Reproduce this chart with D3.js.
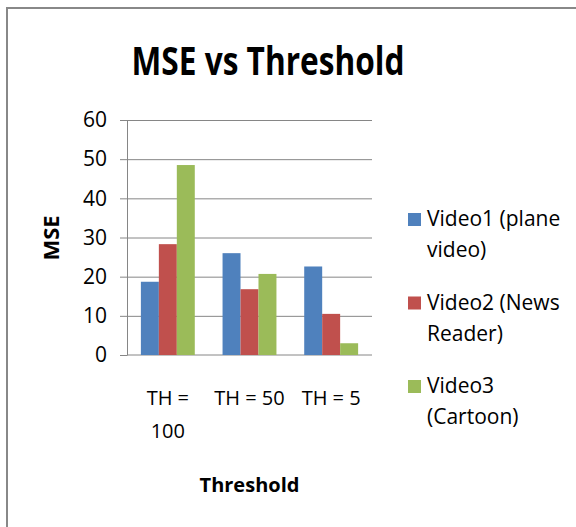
<!DOCTYPE html>
<html lang="en">
<head>
<meta charset="utf-8"/>
<title>MSE vs Threshold</title>
<script src="https://d3js.org/d3.v7.min.js"></script>
<style>
	body { margin: 0; background: #fff; }
	svg text { font-family: "Open Sans", sans-serif; fill: #000; }
	.axis .domain, .axis line, .grid line { stroke: #868686; }
	.grid .domain { display: none; }
</style>
</head>
<body>
<svg id="chart" width="576" height="527"></svg>
<script>
// data
var categories = ["TH = 100", "TH = 50", "TH = 5"];
var seriesNames = ["Video1 (plane video)", "Video2 (News Reader)", "Video3 (Cartoon)"];
var video1 = [18.7, 26.0, 22.6];
var video2 = [28.3, 16.8, 10.5];
var video3 = [48.5, 20.7, 3.0];
var yTicks = [0, 10, 20, 30, 40, 50, 60];
var colors = ["#4f81bd", "#c0504d", "#9bbb59"];

var series = [video1, video2, video3];

var svg = d3.select("#chart"),
	margin = {top: 120, right: 204, bottom: 172, left: 127},
	width = +svg.attr("width") - margin.left - margin.right,
	height = +svg.attr("height") - margin.top - margin.bottom;

// chart border
svg.append("rect")
	.attr("x", 7).attr("y", 8)
	.attr("width", 620).attr("height", 600)
	.attr("fill", "none")
	.attr("stroke", "#888")
	.attr("stroke-width", 2);

svg.append("text")
	.attr("x", 268)
	.attr("y", 75)
	.attr("text-anchor", "middle")
	.attr("font-size", 39)
	.attr("font-weight", "bold")
	.attr("textLength", 273)
	.attr("lengthAdjust", "spacingAndGlyphs")
	.text("MSE vs Threshold");

var g = svg.append("g").attr("transform", "translate(" + margin.left + "," + margin.top + ")");

var x0 = d3.scaleBand()
	.domain(categories)
	.range([0, width])
	.paddingInner(0.34)
	.paddingOuter(0.17);

var x1 = d3.scaleBand()
	.domain(d3.range(series.length))
	.range([0, x0.bandwidth()]);

var y = d3.scaleLinear()
	.domain([0, 60])
	.range([height, 0]);

// gridlines
g.append("g")
	.attr("class", "grid")
	.call(d3.axisRight(y).tickValues(yTicks.slice(1)).tickSize(width).tickFormat(""));

// bottom axis line
g.append("line")
	.attr("class", "axis")
	.attr("x1", 0).attr("x2", width)
	.attr("y1", y(0)).attr("y2", y(0))
	.attr("stroke", "#868686");

// y axis
var yAxis = g.append("g")
	.attr("class", "axis")
	.call(d3.axisLeft(y).tickValues(yTicks).tickSize(7).tickSizeOuter(0).tickPadding(13));
yAxis.attr("font-family", null).attr("font-size", null);
yAxis.selectAll("text").attr("font-size", 21).attr("fill", "#000");

// bars
g.append("g")
	.selectAll("g")
	.data(series)
	.enter().append("g")
		.attr("fill", function(d, i) { return colors[i]; })
		.attr("transform", function(d, i) { return "translate(" + x1(i) + ",0)"; })
	.selectAll("rect")
	.data(function(d) { return d; })
	.enter().append("rect")
		.attr("x", function(d, j) { return x0(categories[j]); })
		.attr("y", function(d) { return y(d); })
		.attr("width", x1.bandwidth())
		.attr("height", function(d) { return y(0) - y(d); });

// wraps text into tspans no wider than maxW
function wrap(text, maxW, lineH) {
	text.each(function() {
		var t = d3.select(this),
			words = t.text().split(" "),
			xx = t.attr("x"),
			line = [],
			tspan = t.text(null).append("tspan").attr("x", xx).attr("dy", 0);
		words.forEach(function(w) {
			line.push(w);
			tspan.text(line.join(" "));
			if (tspan.node().getComputedTextLength() > maxW && line.length > 1) {
				line.pop();
				tspan.text(line.join(" "));
				line = [w];
				tspan = t.append("tspan").attr("x", xx).attr("dy", lineH).text(w);
			}
		});
	});
}

// category labels
g.append("g")
	.selectAll("text")
	.data(categories)
	.enter().append("text")
		.attr("x", function(d) { return x0(d) + x0.bandwidth() / 2; })
		.attr("y", height + 50)
		.attr("text-anchor", "middle")
		.attr("font-size", 20)
		.text(function(d) { return d; })
		.call(wrap, x0.step(), 33);

// axis titles
g.append("text")
	.attr("x", width / 2)
	.attr("y", height + 137)
	.attr("text-anchor", "middle")
	.attr("font-size", 20)
	.attr("font-weight", "bold")
	.text("Threshold");

g.append("text")
	.attr("transform", "translate(" + (59 - margin.left) + "," + (238 - margin.top) + ") rotate(-90)")
	.attr("text-anchor", "middle")
	.attr("font-size", 22)
	.attr("font-weight", "bold")
	.text("MSE");

// legend
var legend = svg.append("g")
	.selectAll("g")
	.data(seriesNames)
	.enter().append("g")
		.attr("transform", function(d, i) { return "translate(408," + (213 + i * 83.5) + ")"; });

legend.append("rect")
	.attr("width", 13)
	.attr("height", 13)
	.attr("fill", function(d, i) { return colors[i]; });

legend.append("text")
	.attr("x", 19)
	.attr("y", 13)
	.attr("font-size", 21)
	.text(function(d) { return d; })
	.call(wrap, 145, 31);
</script>
</body>
</html>
